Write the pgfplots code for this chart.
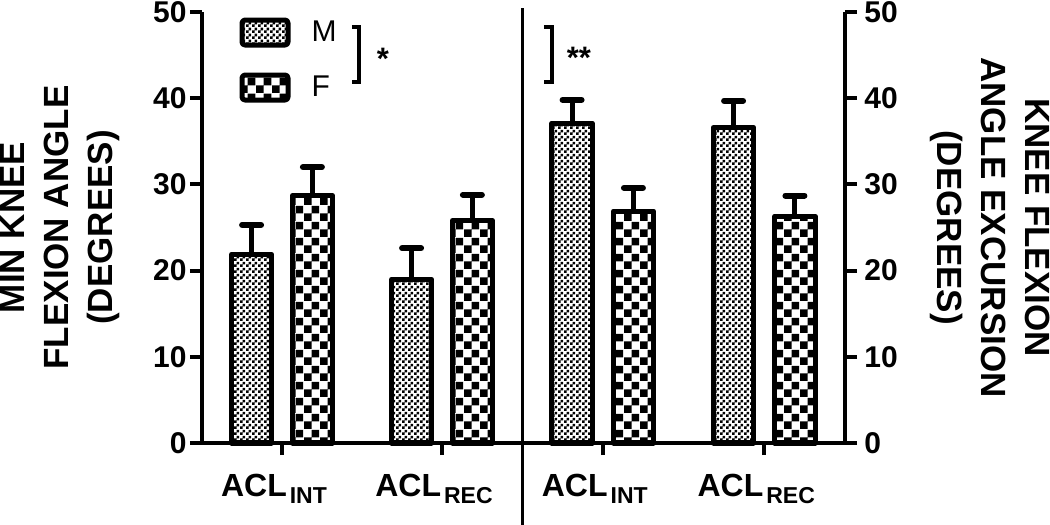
\documentclass[border=0pt]{standalone}
\usepackage{fontspec}
\setmainfont{Liberation Sans}
\usepackage{pgfplots}
\usepackage{pgfplotstable}
\pgfplotsset{compat=1.18}
\usetikzlibrary{patterns}

\pgfdeclarepatternformonly{finecheck}{\pgfpointorigin}{\pgfqpoint{3bp}{3bp}}{\pgfqpoint{3bp}{3bp}}{%
  \pgfpathrectangle{\pgfpointorigin}{\pgfqpoint{1.5bp}{1.5bp}}%
  \pgfpathrectangle{\pgfqpoint{1.5bp}{1.5bp}}{\pgfqpoint{1.5bp}{1.5bp}}%
  \pgfusepath{fill}}
\pgfdeclarepatternformonly{coarsecheck}{\pgfpointorigin}{\pgfqpoint{8bp}{8bp}}{\pgfqpoint{8bp}{8bp}}{%
  \pgfpathrectangle{\pgfpointorigin}{\pgfqpoint{4bp}{4bp}}%
  \pgfpathrectangle{\pgfqpoint{4bp}{4bp}}{\pgfqpoint{4bp}{4bp}}%
  \pgfusepath{fill}}

\newcommand{\xl}[1]{ACL\hspace{1.5bp}\raisebox{-3.5bp}{\fontsize{11.5bp}{12bp}\selectfont #1}}

\pgfplotstableread{
x y e
1 21.9 3.4
3 19.0 3.6
}\minM
\pgfplotstableread{
x y e
1 28.7 3.3
3 25.8 3.0
}\minF
\pgfplotstableread{
x y e
1 37.1 2.7
3 36.6 3.1
}\excM
\pgfplotstableread{
x y e
1 26.9 2.7
3 26.3 2.4
}\excF

\pgfplotsset{
  panel/.style={
    scale only axis, height=215.5bp,
    ymin=0, ymax=50, xmin=0, xmax=4,
    ybar, bar width=0.5,
    xtick={1,3}, xticklabels={\xl{INT},\xl{REC}},
    ytick={0,10,...,50}, minor tick num=0,
    tick align=outside, major tick length=6bp,
    axis line style={-, line width=2bp},
    every tick/.style={line width=2bp, black},
    /pgf/number format/assume math mode=true,
    yticklabel style={font=\fontsize{15bp}{18bp}\selectfont\bfseries, inner sep=1.5bp},
    xticklabel style={font=\fontsize{16bp}{18bp}\selectfont\bfseries, yshift=-6bp, xshift=-4bp},
    clip=false,
  },
  barbase/.style={draw=black, line width=2.5bp, line join=round,
    error bars/.cd, y dir=plus, y explicit,
    error bar style={line width=2.5bp, black},
    error mark options={rotate=90, mark size=4.75bp, line width=3bp, line cap=round, black}},
  mbar/.style={pattern=finecheck, bar shift=-0.38, barbase},
  fbar/.style={pattern=coarsecheck, bar shift=0.38, barbase},
}

\begin{document}
\begin{tikzpicture}
\useasboundingbox (0,0) rectangle (525bp,262.5bp);

\begin{axis}[panel,
  at={(101bp,41bp)}, anchor=south west, width=160bp,
  axis x line*=bottom, axis y line*=left,
  ylabel={MIN KNEE\\FLEXION ANGLE\\(DEGREES)},
  every axis y label/.style={at={(axis description cs:-0.442,0.5)}, rotate=90, anchor=center,
     align=center, font=\fontsize{17.5bp}{22bp}\selectfont\bfseries},
  legend entries={M,F},
  legend cell align=left,
  legend style={at={(axis cs:0.469,49.36)}, anchor=north west, draw=none, fill=none,
     inner sep=0pt, outer sep=0pt, row sep=12.5bp, column sep=10.5bp,
     font=\fontsize{15bp}{18bp}\selectfont, nodes={inner sep=0pt}},
  legend image code/.code={%
     \draw[#1, rounded corners=1.5bp] (0bp,-6.25bp) rectangle (23bp,6.25bp);},
]
\addplot[mbar] table[x=x, y=y, y error=e] {\minM};
\addplot[fbar] table[x=x, y=y, y error=e] {\minF};
\draw[line width=2bp] (axis cs:1.875,48.26) -- (axis cs:1.96,48.26) -- (axis cs:1.96,41.88) -- (axis cs:1.875,41.88);
\node[font=\fontsize{15.5bp}{18bp}\selectfont\bfseries, anchor=base] at (axis cs:2.26,43.3) {*};
\end{axis}

\begin{axis}[panel,
  at={(261bp,41bp)}, anchor=south west, width=161.5bp,
  axis x line*=bottom, axis y line*=right,
  yticklabel style={inner sep=3.5bp},
  ylabel={KNEE FLEXION\\ANGLE EXCURSION\\(DEGREES)},
  every axis y label/.style={at={(axis description cs:1.449,0.5)}, rotate=-90, anchor=center,
     align=center, font=\fontsize{17.5bp}{22bp}\selectfont\bfseries},
]
\addplot[mbar] table[x=x, y=y, y error=e] {\excM};
\addplot[fbar] table[x=x, y=y, y error=e] {\excF};
\draw[line width=2bp] (axis cs:0.272,48.26) -- (axis cs:0.372,48.26) -- (axis cs:0.372,41.88) -- (axis cs:0.272,41.88);
\node[font=\fontsize{15.5bp}{18bp}\selectfont\bfseries, anchor=base] at (axis cs:0.705,43.5) {**};
\end{axis}

\draw[line width=1.5bp] (261bp,0bp) -- (261bp,258.5bp);
\end{tikzpicture}
\end{document}
